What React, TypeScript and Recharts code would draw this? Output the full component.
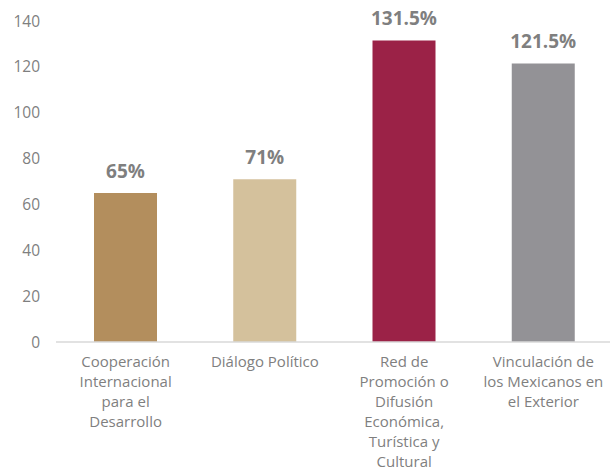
import { BarChart, Bar, XAxis, YAxis, Cell, LabelList } from "recharts";

const categories = [
  ["Cooperación", "Internacional", "para el", "Desarrollo"],
  ["Diálogo Político"],
  ["Red de", "Promoción o", "Difusión", "Económica,", "Turística y", "Cultural"],
  ["Vinculación de", "los Mexicanos en", "el Exterior"],
];
const values = [65, 71, 131.5, 121.5];
const valueLabels = ["65%", "71%", "131.5%", "121.5%"];
const yTicks = [0, 20, 40, 60, 80, 100, 120, 140];

const COLORS = ["#b38e5d", "#d4c19c", "#9b2247", "#939296"];
const FONT = "'Open Sans', 'DejaVu Sans', sans-serif";

const data = values.map((v, i) => ({
  key: String(i),
  value: v,
  label: valueLabels[i],
}));

function CategoryTick(props: any) {
  const { x, y, payload } = props;
  const lines = categories[Number(payload.value)] || [];
  return (
    <g transform={`translate(${x},${y})`}>
      {lines.map((line, i) => (
        <text
          key={i}
          x={0}
          y={17 + i * 20}
          textAnchor="middle"
          fill="#7f7f7f"
          fontSize={15}
          fontFamily={FONT}
        >
          {line}
        </text>
      ))}
    </g>
  );
}

export default function App() {
  return (
    <div style={{ position: "absolute", left: 0, top: 0, width: 610, height: 472, overflow: "hidden", background: "#fff" }}>
      <BarChart
        width={613}
        height={472}
        data={data}
        margin={{ top: 21, right: 0, bottom: 0, left: 0 }}
      >
        <YAxis
          width={56}
          domain={[0, 140]}
          ticks={yTicks}
          axisLine={false}
          tickLine={false}
          tickMargin={10}
          tick={{ fill: "#7f7f7f", fontSize: 15.5, fontFamily: FONT }}
        />
        <XAxis
          dataKey="key"
          height={130}
          axisLine={{ stroke: "#d9d9d9", strokeWidth: 1.5 }}
          tickLine={false}
          tick={<CategoryTick />}
          interval={0}
        />
        <Bar dataKey="value" barSize={63} isAnimationActive={false}>
          {data.map((_, i) => (
            <Cell key={`c-${i}`} fill={COLORS[i]} />
          ))}
          <LabelList
            dataKey="label"
            position="top"
            offset={15}
            fill="#7f7f7f"
            fontSize={19}
            fontWeight="bold"
            fontFamily={FONT}
          />
        </Bar>
      </BarChart>
    </div>
  );
}
